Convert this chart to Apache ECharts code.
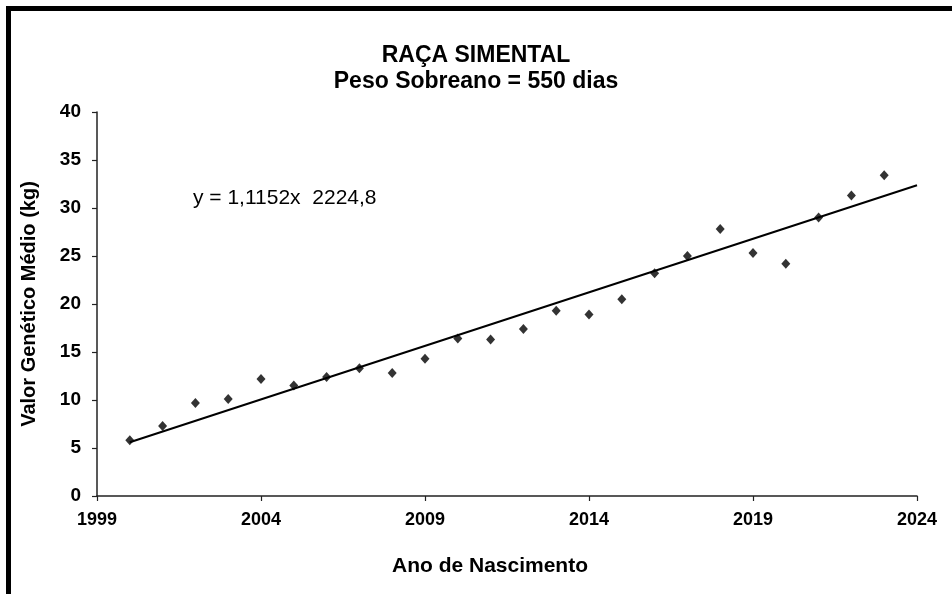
<!DOCTYPE html>
<html>
<head>
<meta charset="utf-8">
<title>Raça Simental</title>
<script src="https://cdn.jsdelivr.net/npm/echarts@6/dist/echarts.min.js"></script>
<style>
  html, body { margin: 0; padding: 0; background: #fff; }
  #chart { width: 952px; height: 594px; }
</style>
</head>
<body>
<div id="chart"></div>
<script>
const years = [2000, 2001, 2002, 2003, 2004, 2005, 2006, 2007, 2008, 2009, 2010, 2011,
  2012, 2013, 2014, 2015, 2016, 2017, 2018, 2019, 2020, 2021, 2022, 2023];
const values = [5.8, 7.3, 9.7, 10.1, 12.2, 11.5, 12.4, 13.3, 12.8, 14.3, 16.4, 16.3,
  17.4, 19.3, 18.9, 20.5, 23.2, 25.0, 27.8, 25.3, 24.2, 29.0, 31.3, 33.4];

// linha de tendência (equação mostrada no gráfico)
const trendSlope = 1.1152;
const trendIntercept = -2224.8;
const trendYears = [2000, 2024];

const xTickLabels = [1999, 2004, 2009, 2014, 2019, 2024];
const equationText = 'y = 1,1152x  2224,8';

const font = "'Liberation Sans', Arial, sans-serif";

const chart = echarts.init(document.getElementById('chart'), null, { renderer: 'canvas' });

const option = {
  backgroundColor: '#fff',
  animation: false,
  title: {
    text: 'RAÇA SIMENTAL\nPeso Sobreano = 550 dias',
    left: 'center',
    top: 38,
    textStyle: {
      color: '#000',
      fontFamily: font,
      fontSize: 23,
      fontWeight: 'bold',
      lineHeight: 26,
    },
  },
  grid: {
    left: 97,
    right: 35,
    top: 112,
    bottom: 98,
  },
  xAxis: {
    type: 'value',
    min: 1999,
    max: 2024,
    interval: 5,
    name: 'Ano de Nascimento',
    nameLocation: 'middle',
    nameGap: 60,
    nameTextStyle: {
      color: '#000', fontFamily: font, fontSize: 21, fontWeight: 'bold',
      padding: [0, 34, 0, 0],
    },
    axisLine: { lineStyle: { color: '#222', width: 1.5 } },
    axisTick: { show: true, length: 5, lineStyle: { color: '#222', width: 1.2 }, customValues: xTickLabels },
    axisLabel: {
      color: '#000',
      fontFamily: font,
      fontSize: 18,
      fontWeight: 'bold',
      margin: 15,
      customValues: xTickLabels,
      formatter: (v) => String(v),
    },
    splitLine: { show: false },
  },
  yAxis: {
    type: 'value',
    min: 0,
    max: 40,
    interval: 5,
    name: 'Valor Genético Médio (kg)',
    nameLocation: 'middle',
    nameGap: 58,
    nameTextStyle: { color: '#000', fontFamily: font, fontSize: 20, fontWeight: 'bold' },
    axisLine: { show: true, lineStyle: { color: '#222', width: 1.5 } },
    axisTick: { show: true, length: 5, lineStyle: { color: '#222', width: 1.2 } },
    axisLabel: {
      color: '#000',
      fontFamily: font,
      fontSize: 19,
      fontWeight: 'bold',
      margin: 16,
    },
    splitLine: { show: false },
  },
  graphic: [
    {
      type: 'polyline',
      shape: { points: [[8.5, 594], [8.5, 8.5], [952, 8.5]] },
      style: { stroke: '#000', lineWidth: 5, fill: null },
      silent: true,
    },
    {
      type: 'text',
      left: 193,
      top: 188,
      style: { text: equationText, fill: '#000', font: '21px ' + font },
      silent: true,
    },
  ],
  series: [
    {
      name: 'Tendência',
      type: 'line',
      data: trendYears.map((x) => [x, trendSlope * x + trendIntercept]),
      showSymbol: false,
      lineStyle: { color: '#000', width: 2 },
      z: 1,
    },
    {
      name: 'Valor genético',
      type: 'scatter',
      data: years.map((y, i) => [y, values[i]]),
      symbol: 'diamond',
      symbolSize: [9, 10],
      itemStyle: { color: '#000' },
      z: 2,
    },
  ],
};

chart.setOption(option);
</script>
</body>
</html>
